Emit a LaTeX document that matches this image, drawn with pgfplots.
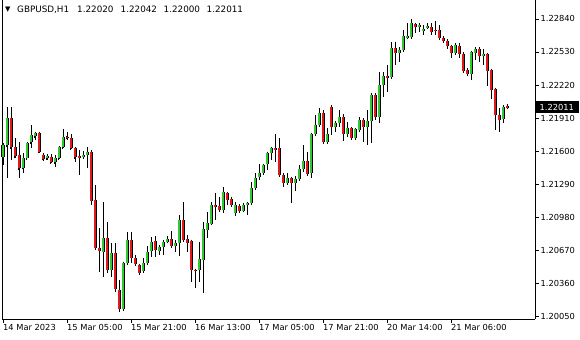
\documentclass[border=0pt]{standalone}
\usepackage{fontspec}
\setmainfont{DejaVu Sans}
\usepackage{pgfplots}
\usepackage{pgfplotstable}
\pgfplotsset{compat=1.18}
\definecolor{bull}{RGB}{50,200,50}
\definecolor{bear}{RGB}{225,25,25}

\pgfplotstableread{
k O H L C
0 1.21544 1.21675 1.21469 1.21656
1 1.21656 1.22013 1.21347 1.21910
2 1.21910 1.22013 1.21516 1.21638
3 1.21638 1.21722 1.21534 1.21553
4 1.21563 1.21685 1.21347 1.21441
5 1.21441 1.21581 1.21394 1.21534
6 1.21534 1.21685 1.21530 1.21675
7 1.21685 1.21844 1.21628 1.21750
8 1.21741 1.21779 1.21703 1.21769
9 1.21769 1.21779 1.21581 1.21591
10 1.21563 1.21581 1.21506 1.21525
11 1.21534 1.21572 1.21516 1.21553
12 1.21544 1.21572 1.21487 1.21497
13 1.21497 1.21563 1.21450 1.21534
14 1.21534 1.21638 1.21525 1.21636
15 1.21636 1.21807 1.21628 1.21732
16 1.21735 1.21779 1.21703 1.21722
17 1.21722 1.21760 1.21619 1.21628
18 1.21628 1.21632 1.21497 1.21544
19 1.21553 1.21610 1.21375 1.21534
20 1.21544 1.21600 1.21525 1.21563
21 1.21563 1.21638 1.21441 1.21591
22 1.21591 1.21600 1.21093 1.21131
23 1.21140 1.21281 1.20671 1.20689
24 1.20689 1.20877 1.20464 1.20661
25 1.20652 1.21121 1.20417 1.20783
26 1.20783 1.20933 1.20455 1.20483
27 1.20483 1.20736 1.20417 1.20642
28 1.20642 1.20736 1.20276 1.20304
29 1.20295 1.20389 1.20088 1.20116
30 1.20116 1.20558 1.20107 1.20548
31 1.20548 1.20840 1.20539 1.20764
32 1.20764 1.20840 1.20548 1.20595
33 1.20595 1.20624 1.20530 1.20539
34 1.20530 1.20539 1.20436 1.20455
35 1.20473 1.20595 1.20455 1.20548
36 1.20548 1.20708 1.20539 1.20652
37 1.20661 1.20793 1.20605 1.20746
38 1.20755 1.20802 1.20605 1.20671
39 1.20661 1.20717 1.20624 1.20699
40 1.20699 1.20764 1.20624 1.20746
41 1.20746 1.20802 1.20736 1.20774
42 1.20774 1.20849 1.20699 1.20708
43 1.20708 1.20764 1.20652 1.20736
44 1.20736 1.20999 1.20614 1.20952
45 1.20952 1.21121 1.20746 1.20764
46 1.20774 1.20811 1.20652 1.20736
47 1.20755 1.20755 1.20370 1.20483
48 1.20483 1.20492 1.20314 1.20478
49 1.20483 1.20746 1.20370 1.20586
50 1.20577 1.20933 1.20267 1.20868
51 1.20858 1.21027 1.20783 1.20924
52 1.20915 1.21121 1.20915 1.21093
53 1.21093 1.21206 1.20952 1.21084
54 1.21084 1.21168 1.21027 1.21046
55 1.21046 1.21263 1.21018 1.21215
56 1.21206 1.21212 1.21093 1.21140
57 1.21149 1.21168 1.21074 1.21093
58 1.21018 1.21121 1.20990 1.21093
59 1.21084 1.21102 1.21027 1.21037
60 1.21037 1.21112 1.21027 1.21093
61 1.21093 1.21121 1.20999 1.21112
62 1.21112 1.21309 1.21093 1.21253
63 1.21253 1.21394 1.21234 1.21347
64 1.21356 1.21478 1.21328 1.21394
65 1.21394 1.21478 1.21375 1.21469
66 1.21478 1.21591 1.21422 1.21581
67 1.21581 1.21638 1.21516 1.21628
68 1.21628 1.21760 1.21497 1.21619
69 1.21628 1.21722 1.21365 1.21375
70 1.21375 1.21394 1.21263 1.21300
71 1.21300 1.21394 1.21281 1.21347
72 1.21347 1.21352 1.21112 1.21300
73 1.21300 1.21365 1.21225 1.21337
74 1.21337 1.21469 1.21328 1.21431
75 1.21431 1.21656 1.21403 1.21506
76 1.21506 1.21591 1.21375 1.21384
77 1.21394 1.21769 1.21347 1.21760
78 1.21760 1.21938 1.21741 1.21844
79 1.21844 1.22004 1.21835 1.21957
80 1.21957 1.21985 1.21675 1.21685
81 1.21685 1.21816 1.21675 1.21760
82 1.22013 1.22032 1.21750 1.21825
83 1.21825 1.21882 1.21779 1.21863
84 1.21863 1.21985 1.21825 1.21919
85 1.21919 1.21948 1.21694 1.21760
86 1.21760 1.21872 1.21732 1.21816
87 1.21816 1.21825 1.21703 1.21722
88 1.21722 1.21816 1.21703 1.21807
89 1.21797 1.21919 1.21779 1.21891
90 1.21891 1.21910 1.21685 1.21825
91 1.21825 1.21985 1.21656 1.21882
92 1.21882 1.22145 1.21675 1.22126
93 1.22126 1.22145 1.21891 1.21919
94 1.21919 1.22342 1.21863 1.22220
95 1.22220 1.22342 1.22107 1.22304
96 1.22304 1.22408 1.22154 1.22295
97 1.22295 1.22624 1.22286 1.22567
98 1.22567 1.22624 1.22408 1.22520
99 1.22520 1.22577 1.22436 1.22548
100 1.22548 1.22736 1.22539 1.22680
101 1.22671 1.22802 1.22661 1.22680
102 1.22671 1.22840 1.22671 1.22802
103 1.22793 1.22802 1.22708 1.22764
104 1.22764 1.22802 1.22718 1.22783
105 1.22727 1.22783 1.22690 1.22746
106 1.22764 1.22802 1.22746 1.22774
107 1.22764 1.22802 1.22690 1.22718
108 1.22736 1.22821 1.22690 1.22730
109 1.22736 1.22783 1.22642 1.22661
110 1.22661 1.22680 1.22614 1.22633
111 1.22633 1.22652 1.22558 1.22586
112 1.22586 1.22595 1.22473 1.22520
113 1.22520 1.22614 1.22511 1.22595
114 1.22586 1.22614 1.22473 1.22511
115 1.22511 1.22530 1.22333 1.22351
116 1.22361 1.22370 1.22304 1.22323
117 1.22323 1.22530 1.22267 1.22530
118 1.22520 1.22577 1.22455 1.22558
119 1.22558 1.22577 1.22436 1.22492
120 1.22492 1.22558 1.22408 1.22511
121 1.22511 1.22520 1.22210 1.22351
122 1.22361 1.22370 1.22088 1.22173
123 1.22182 1.22192 1.21797 1.21938
124 1.21938 1.22004 1.21779 1.21891
125 1.21901 1.22032 1.21863 1.22013
126 1.22020 1.22042 1.22000 1.22011
}\candles

\begin{document}
\begin{tikzpicture}[font=\fontsize{8.3bp}{10bp}\selectfont]
\path[use as bounding box] (0,0) rectangle (580bp,340bp);
\begin{axis}[
  at={(2bp,21bp)}, anchor=south west,
  scale only axis, width=533bp, height=319bp,
  xmin=-0.25, xmax=133, ymin=1.200226, ymax=1.23018,
  axis x line*=bottom, axis y line*=right,
  axis line style={-, line width=0.8bp, black},
  xtick={0,16,32,48,64,80,96,112},
  xticklabels={14 Mar 2023,15 Mar 05:00,15 Mar 21:00,16 Mar 13:00,17 Mar 05:00,17 Mar 21:00,20 Mar 14:00,21 Mar 06:00},
  ytick={1.2005,1.2036,1.2067,1.2098,1.2129,1.2160,1.2191,1.2222,1.2253,1.2284},
  yticklabels={1.20050,1.20360,1.20670,1.20980,1.21290,1.21600,1.21910,1.22220,1.22530,1.22840},
  xtick pos=lower, ytick pos=right, yticklabel pos=right,
  tick align=outside, major tick length=3.5bp,
  tick style={black, line width=0.8bp},
  xticklabel style={anchor=base west, inner sep=0pt, yshift=-8bp},
  yticklabel style={anchor=west, inner sep=0pt, xshift=2bp},
  clip=false, unbounded coords=discard,
]
\draw[line width=0.8bp] (rel axis cs:0,0) -- (rel axis cs:0,1);
% wicks
\addplot[draw=none, mark=none, forget plot,
  error bars/.cd, y dir=minus, y explicit, error mark=none,
  error bar style={draw=black, solid, line width=1bp}]
  table[x=k, y=H, y error expr=\thisrow{H}-\thisrow{L}] {\candles};
% body frames
\addplot[draw=none, mark=none, forget plot,
  error bars/.cd, y dir=both, y explicit, error mark=-,
  error mark options={draw=black, solid, line width=1bp, mark size=1.5bp},
  error bar style={draw=black, solid, line width=3bp, line cap=butt}]
  table[x=k, y expr=(\thisrow{O}+\thisrow{C})/2, y error expr=abs(\thisrow{C}-\thisrow{O})/2] {\candles};
% bullish fill
\addplot[draw=none, mark=none, forget plot,
  y filter/.expression={\thisrow{C}>\thisrow{O} ? y : nan},
  error bars/.cd, y dir=both, y explicit, error mark=none,
  error bar style={draw=bull, solid, line width=1.3bp, line cap=butt}]
  table[x=k, y expr=(\thisrow{O}+\thisrow{C})/2, y error expr=abs(\thisrow{C}-\thisrow{O})/2] {\candles};
% bearish fill
\addplot[draw=none, mark=none, forget plot,
  y filter/.expression={\thisrow{C}<\thisrow{O} ? y : nan},
  error bars/.cd, y dir=both, y explicit, error mark=none,
  error bar style={draw=bear, solid, line width=1.3bp, line cap=butt}]
  table[x=k, y expr=(\thisrow{O}+\thisrow{C})/2, y error expr=abs(\thisrow{C}-\thisrow{O})/2] {\candles};
\node[fill=black, text=white, anchor=west, inner xsep=4.5bp, inner ysep=2.8bp] at (axis cs:133,1.22011) {1.22011};
\end{axis}
\begin{scope}[font=\fontsize{8.8bp}{10bp}\selectfont]
\node[anchor=west, inner sep=0pt] at (5bp,330bp) {\fontsize{7bp}{8bp}\selectfont ▼};
\node[anchor=base west, inner sep=0pt] at (17bp,327bp) {GBPUSD,H1};
\node[anchor=base west, inner sep=0pt] at (77bp,327bp) {1.22020};
\node[anchor=base west, inner sep=0pt] at (120.5bp,327bp) {1.22042};
\node[anchor=base west, inner sep=0pt] at (163.5bp,327bp) {1.22000};
\node[anchor=base west, inner sep=0pt] at (206.5bp,327bp) {1.22011};
\end{scope}
\end{tikzpicture}
\end{document}
